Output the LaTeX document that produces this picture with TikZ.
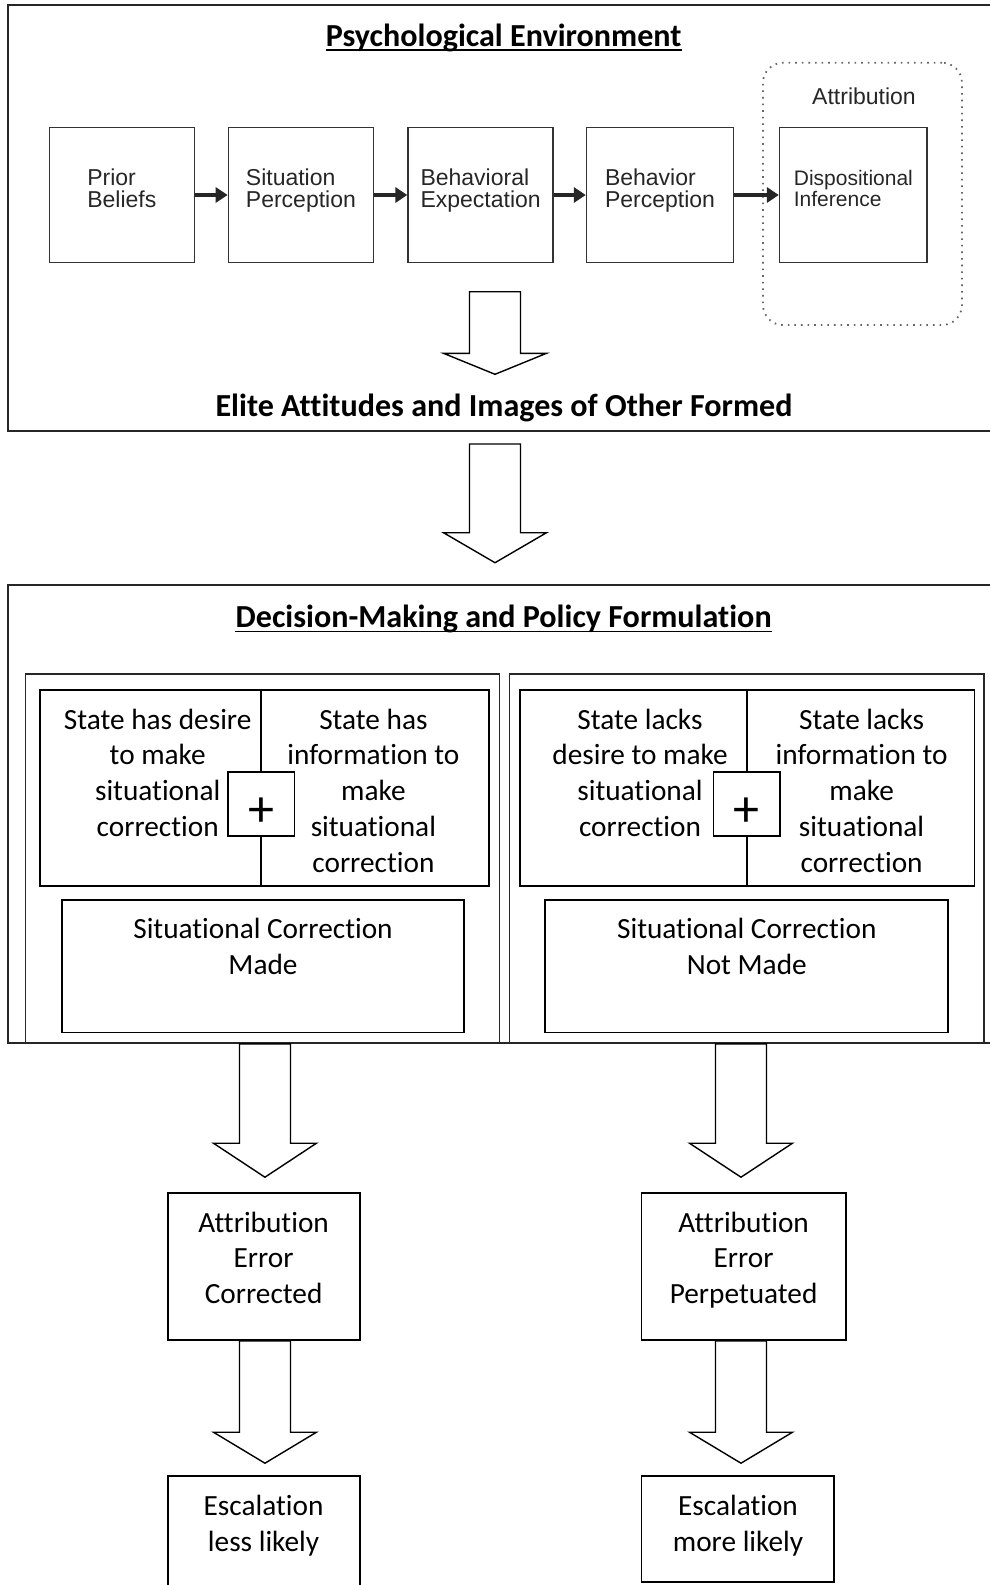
\documentclass[tikz,border=0pt]{standalone}
\usepackage{fontspec}
\setmainfont{Carlito}[Ligatures=NoCommon]
\newfontfamily\scanfont{Liberation Sans}
\usetikzlibrary{calc,arrows.meta}

% hollow block arrow: start of shaft, tip, head length
\newcommand{\blockarrow}[3]{%
  \draw[hollowarrow] ($(#2 |- #1)+(-25.5,0)$) -- ($(#2)+(-25.5,-#3)$) -- ($(#2)+(-51.5,-#3)$) -- (#2)
    -- ($(#2)+(51.5,-#3)$) -- ($(#2)+(25.5,-#3)$) -- ($(#2 |- #1)+(25.5,0)$) -- cycle;}

\begin{document}
\begin{tikzpicture}[x=1pt,y=-1pt,
    frame/.style={draw=black!85, line width=1.6pt},
    title/.style={font=\bfseries\fontsize{32.1}{38}\selectfont, inner sep=0pt},
    uline/.style={line width=1.8pt},
    body/.style={font=\fontsize{29.3}{35.8}\selectfont, align=center, inner sep=0pt, anchor=north},
    box/.style={draw, line width=1.6pt, inner sep=0pt},
    procbox/.style={draw=black!80, line width=1.5pt, minimum width=145pt, minimum height=134.6pt,
      inner sep=0pt, text depth=14pt, align=left, text=black!85, font=\scanfont\fontsize{23}{22}\selectfont},
    scan/.style={text=black!85, inner sep=0pt, font=\scanfont\fontsize{23}{22}\selectfont},
    flow/.style={line width=3.4pt, black!85, -{Triangle[length=12pt,width=15pt]}},
    attrbox/.style={draw=black!60, line width=1.8pt, dash pattern=on 1.6pt off 5pt, rounded corners=20pt,
      minimum width=199pt, minimum height=262.3pt},
    hollowarrow/.style={draw, fill=white, line width=1.4pt, line join=miter},
    plusbox/.style={draw, fill=white, line width=1.6pt, minimum width=66.8pt, minimum height=64.3pt, inner sep=0pt},
    plussign/.style={inner sep=0pt, font=\fontsize{52}{52}\selectfont}
  ]
  \useasboundingbox (0,0) rectangle (989,1585);

  % Psychological environment
  \draw[frame] (8,5) rectangle (1010,431);
  \node[title, anchor=base] (pe) at (503.6,46.4) {Psychological Environment};
  \draw[uline] ([yshift=-3.6pt]pe.base west) -- ([yshift=-3.6pt]pe.base east);

  \node[attrbox] (attrib) at (862.5,193.9) {};
  \node[scan] (attrt) at (864,96.7) {Attribution};

  \node[procbox] (prior) at (121.8,195) {Prior\\Beliefs};
  \node[procbox] (sitp) at (300.9,195) {Situation\\Perception};
  \node[procbox] (bexp) at (480.6,195) {Behavioral\\Expectation};
  \node[procbox, minimum width=147pt] (bper) at (660,195) {Behavior\\Perception};
  \node[procbox, minimum width=147.6pt, font=\scanfont\fontsize{21}{21}\selectfont] (dinf) at (853.4,195) {Dispositional\\Inference};

  \draw[flow] (prior) -- (sitp);
  \draw[flow] (sitp) -- (bexp);
  \draw[flow] (bexp) -- (bper);
  \draw[flow] (bper) -- (dinf);

  \coordinate (a1s) at (495,291.7);
  \coordinate (a1t) at (495,374.3);
  \blockarrow{a1s}{a1t}{21}
  \node[title, anchor=base] (elite) at (504,416) {Elite Attitudes and Images of Other Formed};

  \coordinate (a2s) at (495,444);
  \coordinate (a2t) at (495,562.7);
  \blockarrow{a2s}{a2t}{30}

  % Decision-making
  \draw[frame] (8,584.7) rectangle (1010,1043);
  \node[title, anchor=base] (dm) at (503.6,627.7) {Decision-Making and Policy Formulation};
  \draw[uline] ([yshift=-3.8pt]dm.base west) -- ([yshift=-3.8pt]dm.base east);

  \node[box, draw=black!85, minimum width=474.2pt, minimum height=369pt] (lpanel) at (262.4,858.5) {};
  \node[box, draw=black!85, minimum width=474.4pt, minimum height=369pt] (rpanel) at (746.8,858.5) {};

  % left: correction made
  \node[box, minimum width=449.1pt, minimum height=195.7pt] (lcell) at (264.25,787.85) {};
  \node[plusbox] (lplus) at (261.1,803.9) {};
  \node[plussign] (lplust) at (261.1,812) {+};
  \draw[box] (lcell.north -| lplus) -- (lplus.north);
  \draw[box] (lplus.south) -- (lcell.south -| lplus);
  \node[body] (hasdes) at (157.7,708.6) {State has desire\\to make\\situational\\correction};
  \node[body] (hasinf) at (373.4,708.6) {State has\\information to\\make\\situational\\correction};
  \node[box, minimum width=402.4pt, minimum height=132.3pt] (made) at (263,966.15) {};
  \node[body] (madet) at (263,918) {Situational Correction\\Made};

  % right: correction not made
  \node[box, minimum width=454.8pt, minimum height=195.7pt] (rcell) at (747.1,787.85) {};
  \node[plusbox] (rplus) at (746.7,803.9) {};
  \node[plussign] (rplust) at (746.7,812) {+};
  \draw[box] (rcell.north -| rplus) -- (rplus.north);
  \draw[box] (rplus.south) -- (rcell.south -| rplus);
  \node[body] (lackdes) at (640,708.6) {State lacks\\desire to make\\situational\\correction};
  \node[body] (lackinf) at (861.6,708.6) {State lacks\\information to\\make\\situational\\correction};
  \node[box, minimum width=403pt, minimum height=132.3pt] (notmade) at (746.5,966.15) {};
  \node[body] (notmadet) at (746.8,918) {Situational Correction\\Not Made};

  % outcomes
  \node[box, minimum width=192.3pt, minimum height=147.2pt] (corr) at (263.95,1266.4) {};
  \node[body] (corrt) at (263.6,1211.5) {Attribution\\Error\\Corrected};
  \node[box, minimum width=204.4pt, minimum height=147.2pt] (perp) at (743.6,1266.4) {};
  \node[body] (perpt) at (743.6,1211.5) {Attribution\\Error\\Perpetuated};
  \node[box, minimum width=192.3pt, minimum height=134pt] (less) at (263.95,1542.7) {};
  \node[body] (lesst) at (263.6,1495) {Escalation\\less likely};
  \node[box, minimum width=192.4pt, minimum height=106.3pt] (more) at (737.6,1528.85) {};
  \node[body] (moret) at (738,1495) {Escalation\\more likely};

  \coordinate (a3t) at ($(corr.north)+(1,-14.8)$);
  \blockarrow{lpanel.south}{a3t}{34}
  \coordinate (a4t) at ($(perp.north)+(-2.6,-14.8)$);
  \blockarrow{rpanel.south}{a4t}{34}
  \coordinate (a5t) at ($(corr.south |- less.north)+(1,-11.7)$);
  \blockarrow{corr.south}{a5t}{31}
  \coordinate (a6t) at ($(perp.south |- more.north)+(-2.6,-11.7)$);
  \blockarrow{perp.south}{a6t}{31}
\end{tikzpicture}
\end{document}
